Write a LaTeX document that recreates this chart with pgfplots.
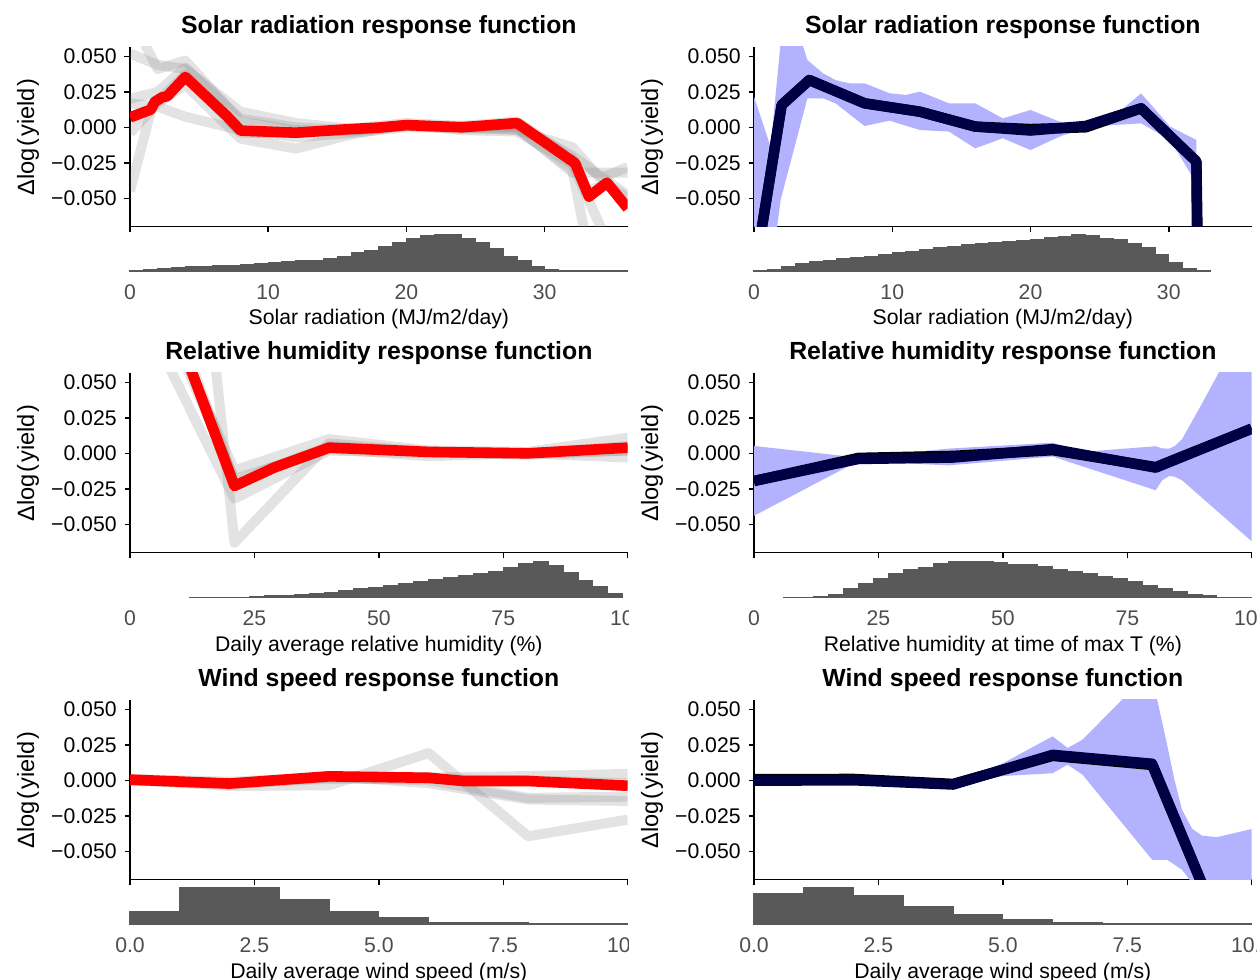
\documentclass[border=0pt]{standalone}
\usepackage{fontspec}
\setmainfont{Liberation Sans}
\usepackage{pgfplots}
\pgfplotsset{compat=1.18}
\definecolor{histgrey}{HTML}{595959}
\definecolor{tickgrey}{HTML}{4D4D4D}
\definecolor{bandblue}{HTML}{B2B2FF}
\definecolor{navyline}{HTML}{000044}
\newcommand\tfont{\fontsize{10.6}{12.7}\selectfont}
\pgfplotsset{
  mainbase/.style={
    scale only axis, width=248.85pt, height=90pt, anchor=south west,
    ymin=-0.0700, ymax=0.0568, no markers, scaled y ticks=false, scaled x ticks=false,
    axis x line*=bottom, axis y line*=left,
    axis line style={-, line width=0.75pt, black},
    tick style={line width=0.75pt, black},
    major tick length=2.75pt, tick align=outside,
    ytick={-0.05,-0.025,0,0.025,0.05},
    yticklabels={−0.050,−0.025,0.000,0.025,0.050},
    yticklabel style={font=\tfont, anchor=east, inner sep=0pt, xshift=-3.75pt},
    xticklabels={},
    title style={font=\bfseries\fontsize{12.4}{15}\selectfont, at={(axis description cs:0.5,1)}, anchor=base, yshift=0.5pt},
    ylabel={Δlog\hspace{0.08em}(\hspace{0.08em}yield\hspace{0.08em})},
    ylabel style={font=\fontsize{11.8}{14}\selectfont, at={(axis description cs:-0.205,0.5)}, anchor=center},
  },
  histbase/.style={
    scale only axis, width=248.85pt, height=18pt, anchor=south west,
    ymin=0, ymax=1, clip=false, no markers, scaled x ticks=false,
    axis line style={draw=none}, major tick length=0pt, tick style={draw=none},
    ytick=\empty,
    xticklabel style={font=\tfont, text=tickgrey, anchor=base, inner sep=0pt, yshift=-14.25pt},
    xlabel style={font=\tfont, at={(axis description cs:0.5,0)}, anchor=base, yshift=-27pt},
  },
  greyline/.style={draw=gray, opacity=0.22, line width=5pt, line join=round},
  redline/.style={draw=red, line width=5.3pt, line join=round},
  blackline/.style={draw=black, line width=5.2pt, line join=round},
  navline/.style={draw=navyline, line width=5.2pt, line join=round},
  band/.style={fill=bandblue, draw=none},
  hist/.style={const plot mark left, fill=histgrey, draw=histgrey, line width=0.6pt},
}
\begin{document}
\begin{tikzpicture}
\begin{scope}
\clip (0pt,0pt) rectangle (314.25pt,489.5pt);
% ---------------- Row 1 left
\begin{axis}[mainbase, at={(65pt,376.15pt)}, xmin=0, xmax=36, xtick={0,10,20,30},
  title={Solar radiation response function}]
\addplot[greyline] coordinates {(0,0.052)(2,0.044)(4,0.041)(8,0.011)(12,0.003)(16,-0.001)(20,0.003)(24,0.001)(28,0.001)(32,-0.020)(36,-0.048)};
\addplot[greyline] coordinates {(1,0.060)(2,0.041)(4,0.047)(8,0.004)(12,-0.002)(16,-0.003)(20,0.001)(24,-0.001)(28,-0.001)(32,-0.030)(33,-0.080)};
\addplot[greyline] coordinates {(0,0.017)(2,0.0146)(4,0.0075)(8,-0.002)(12,-0.007)(16,-0.004)(20,0.000)(24,0.000)(28,-0.002)(32,-0.014)(34,-0.036)(36,-0.028)};
\addplot[greyline] coordinates {(0,-0.004)(2,0.017)(4,0.030)(8,-0.008)(12,-0.015)(16,-0.005)(20,0.002)(24,-0.002)(28,-0.003)(32,-0.026)(34.5,-0.080)};
\addplot[greyline] coordinates {(0,-0.045)(1.6,0.015)(4,0.037)(8,-0.004)(12,-0.004)(16,-0.002)(20,0.001)(24,0.001)(28,0.004)(32,-0.022)(33,-0.045)(34.5,-0.040)(36,-0.050)};
\addplot[greyline] coordinates {(0,0.020)(2,0.025)(4,0.042)(8,0.006)(12,0.000)(16,-0.002)(20,0.001)(24,0.000)(28,0.000)(32,-0.032)(36,-0.032)};
\addplot[redline] coordinates {(0,0.0070)(1.5,0.0125)(1.8,0.0180)(2.3,0.0210)(2.7,0.0220)(4,0.0355)(7,0.0080)(8,-0.0023)(12,-0.0038)(16,-0.0012)(18,-0.0002)(20,0.0016)(24,0.0000)(28,0.0030)(32.2,-0.0253)(33.2,-0.0488)(34.5,-0.0390)(36,-0.0570)};
\end{axis}
\begin{axis}[histbase, at={(65pt,354pt)}, xmin=0, xmax=36, xtick={0,10,20,30}, xticklabels={0,10,20,30},
  xlabel={Solar radiation (MJ/m2/day)}]
\addplot[hist] coordinates {(0,0.008)(1,0.037)(2,0.056)(3,0.093)(4,0.112)(5,0.131)(6,0.150)(7,0.159)(8,0.187)(9,0.206)(10,0.234)(11,0.252)(12,0.280)(13,0.299)(14,0.346)(15,0.411)(16,0.505)(17,0.579)(18,0.673)(19,0.794)(20,0.888)(21,0.972)(22,1.0)(23,1.0)(24,0.907)(25,0.794)(26,0.626)(27,0.411)(28,0.280)(29,0.131)(30,0.037)(31,0.008)(36,0.008)} \closedcycle;
\end{axis}
% ---------------- Row 2 left
\begin{axis}[mainbase, at={(65pt,213.15pt)}, xmin=0, xmax=100, xtick={0,25,50,75,100},
  title={Relative humidity response function}]
\addplot[greyline] coordinates {(16,0.100)(21,-0.063)(40,0.007)(60,0.001)(80,0.000)(100,0.002)};
\addplot[greyline] coordinates {(5,0.081)(21,-0.032)(40,0.002)(60,0.000)(80,0.000)(100,-0.003)};
\addplot[greyline] coordinates {(10,0.075)(21,-0.012)(40,0.010)(60,0.002)(80,0.001)(100,0.011)};
\addplot[greyline] coordinates {(9,0.080)(21,-0.018)(40,0.003)(60,-0.002)(80,0.000)(100,0.005)};
\addplot[greyline] coordinates {(10,0.085)(21,-0.020)(40,0.005)(60,0.001)(80,-0.001)(100,0.002)};
\addplot[redline] coordinates {(10,0.080)(21,-0.023)(29,-0.010)(40,0.004)(60,0.001)(80,0.000)(100,0.004)};
\end{axis}
\begin{axis}[histbase, at={(65pt,190.75pt)}, xmin=0, xmax=100, xtick={0,25,50,75,100}, xticklabels={0,25,50,75,100},
  xlabel={Daily average relative humidity (\%)}]
\addplot[hist] coordinates {(12,0.01)(24,0.036)(27,0.045)(30,0.0625)(33,0.080)(36,0.107)(39,0.134)(42,0.1875)(45,0.241)(48,0.286)(51,0.330)(54,0.375)(57,0.4375)(60,0.491)(63,0.545)(66,0.598)(69,0.670)(72,0.732)(75,0.839)(78,0.9375)(81,1.0)(84,0.893)(87,0.705)(90,0.482)(93,0.304)(96,0.107)(99,0.107)} \closedcycle;
\end{axis}
% ---------------- Row 3 left
\begin{axis}[mainbase, at={(65pt,49.65pt)}, xmin=0, xmax=10, xtick={0,2.5,5,7.5,10},
  title={Wind speed response function}]
\addplot[greyline] coordinates {(0,0.0005)(2,-0.004)(4,-0.0035)(6,0.0192)(8,-0.0394)(10,-0.0277)};
\addplot[greyline] coordinates {(0,0.000)(2,-0.003)(4,0.002)(6,0.000)(8,-0.0124)(10,-0.0115)};
\addplot[greyline] coordinates {(0,0.000)(2,-0.002)(4,0.003)(6,-0.002)(8,-0.0135)(10,-0.0145)};
\addplot[greyline] coordinates {(0,0.001)(2,-0.001)(4,0.002)(6,0.002)(8,0.003)(10,0.0045)};
\addplot[greyline] coordinates {(0,0.000)(2,-0.002)(4,0.001)(6,0.001)(8,0.000)(10,-0.002)};
\addplot[redline] coordinates {(0,0.0005)(2,-0.0023)(4,0.0028)(6,0.0018)(6.7,-0.0005)(8,-0.0005)(10,-0.0038)};
\end{axis}
\begin{axis}[histbase, at={(65pt,27.5pt)}, xmin=0, xmax=10, xtick={0,2.5,5,7.5,10}, xticklabels={0.0,2.5,5.0,7.5,10.0},
  xlabel={Daily average wind speed (m/s)}]
\addplot[hist] coordinates {(0,0.352)(1,1.0)(2,1.0)(3,0.676)(4,0.352)(5,0.167)(6,0.046)(7,0.028)(8,0.012)(10,0.012)} \closedcycle;
\end{axis}
\end{scope}
% ---------------- Row 1 right
\begin{axis}[mainbase, at={(377pt,376.15pt)}, xmin=0, xmax=36, xtick={0,10,20,30},
  title={Solar radiation response function}]
\addplot[band] coordinates {(0,0.0216)(1.2,-0.0136)(1.93,0.060)(2.5,0.09)(3.3,0.065)(3.86,0.0474)(5,0.038)(5.9,0.0333)(6.9,0.031)(8,0.031)(9.8,0.024)(11,0.0228)(12,0.0251)(14.1,0.0169)(16,0.0169)(18,0.0063)(20,0.0122)(22.1,0.004)(24,0.0005)(26,0.0075)(28,0.0239)(30.1,0.0005)(32,-0.0089)
  (32,-0.0394)(30.1,-0.0089)(28,0.0028)(26,0.0016)(24,0.0)(22.1,-0.0066)(20,-0.016)(18,-0.0077)(16,-0.0148)(14.1,-0.003)(12,-0.0019)(9.8,0.0047)(8,0.0009)(5.9,0.0169)(5,0.0204)(3.86,0.0204)(1.93,-0.051)(1.0,-0.12)(0,-0.25)};
\addplot[blackline] coordinates {(0,-0.105)(2,0.0157)(4,0.0333)(8,0.0169)(12,0.011)(16,0.0005)(20,-0.0012)(24,0.0000)(28,0.0134)(32,-0.0240)(32.45,-0.30)};
\addplot[navline] coordinates {(0,-0.105)(2,0.0157)(4,0.0333)(8,0.0169)(12,0.011)(16,0.0005)(20,-0.0023)(24,0.0010)(28,0.0134)(32,-0.0242)(32.2,-0.30)};
\end{axis}
\begin{axis}[histbase, at={(377pt,354pt)}, xmin=0, xmax=36, xtick={0,10,20,30}, xticklabels={0,10,20,30},
  xlabel={Solar radiation (MJ/m2/day)}]
\addplot[hist] coordinates {(0,0.008)(1,0.037)(2,0.112)(3,0.206)(4,0.252)(5,0.299)(6,0.336)(7,0.374)(8,0.411)(9,0.458)(10,0.505)(11,0.551)(12,0.598)(13,0.636)(14,0.673)(15,0.720)(16,0.748)(17,0.776)(18,0.804)(19,0.832)(20,0.860)(21,0.935)(22,0.953)(23,1.0)(24,0.981)(25,0.907)(26,0.879)(27,0.766)(28,0.654)(29,0.467)(30,0.243)(31,0.056)(32,0.019)(33,0.019)} \closedcycle;
\end{axis}
% ---------------- Row 2 right
\begin{axis}[mainbase, at={(377pt,213.15pt)}, xmin=0, xmax=100, xtick={0,25,50,75,100},
  title={Relative humidity response function}]
\addplot[band] coordinates {(0,0.0052)(21,-0.003)(39,0.0033)(60,0.0075)(66,0.001)(80.7,0.005)(82,0.0035)(83.4,0.0033)(84.5,0.005)(86,0.0099)(90,0.035)(93.4,0.057)(100,0.10)
  (100,-0.062)(86,-0.019)(84.5,-0.0165)(83.4,-0.016)(82,-0.019)(80.7,-0.026)(60,-0.0023)(39,-0.0085)(21,-0.0054)(0,-0.044)};
\addplot[blackline] coordinates {(0,-0.0195)(21,-0.0032)(40,-0.0018)(60,0.0022)(80.7,-0.0097)(100,0.0174)};
\addplot[navline] coordinates {(0,-0.0195)(21,-0.0040)(40,-0.0030)(60,0.0030)(80.7,-0.0101)(100,0.0174)};
\end{axis}
\begin{axis}[histbase, at={(377pt,190.75pt)}, xmin=0, xmax=100, xtick={0,25,50,75,100}, xticklabels={0,25,50,75,100},
  xlabel={Relative humidity at time of max T (\%)}]
\addplot[hist] coordinates {(6,0.01)(12,0.027)(15,0.082)(18,0.245)(21,0.382)(24,0.518)(27,0.655)(30,0.773)(33,0.836)(36,0.945)(39,0.991)(42,1.0)(45,1.0)(48,0.973)(51,0.927)(54,0.909)(57,0.845)(60,0.773)(63,0.718)(66,0.655)(69,0.591)(72,0.536)(75,0.445)(78,0.336)(81,0.245)(84,0.155)(87,0.091)(90,0.045)(93,0.01)(100,0.01)} \closedcycle;
\end{axis}
% ---------------- Row 3 right
\begin{axis}[mainbase, at={(377pt,49.65pt)}, xmin=0, xmax=10, xtick={0,2.5,5,7.5,10},
  title={Wind speed response function}]
\addplot[band] coordinates {(0,0.0010)(2,0.0010)(4,-0.0020)(5,0.012)(6,0.031)(6.3,0.0228)(6.6,0.0286)(7.4,0.057)(8.0,0.090)(8.1,0.057)(8.3,0.025)(8.45,0.0)(8.6,-0.0207)(8.8,-0.034)(9.0,-0.039)(9.3,-0.040)(10,-0.0343)
  (10,-0.20)(9,-0.090)(8.75,-0.070)(8.6,-0.063)(8.3,-0.056)(8.0,-0.056)(6.6,0.004)(6.3,0.011)(6.0,0.005)(5,0.003)(4,-0.0045)(2,-0.0010)(0,-0.0010)};
\addplot[blackline] coordinates {(0,0.0008)(2,0.0010)(4,-0.0025)(6,0.0172)(8,0.0108)(10,-0.157)};
\addplot[navline] coordinates {(0,-0.0003)(2,0.0000)(4,-0.0030)(6,0.0180)(8,0.0117)(10,-0.157)};
\end{axis}
\begin{axis}[histbase, at={(377pt,27.5pt)}, xmin=0, xmax=10, xtick={0,2.5,5,7.5,10}, xticklabels={0.0,2.5,5.0,7.5,10.0},
  xlabel={Daily average wind speed (m/s)}]
\addplot[hist] coordinates {(0,0.833)(1,1.0)(2,0.787)(3,0.472)(4,0.259)(5,0.111)(6,0.028)(7,0.012)(10,0.012)} \closedcycle;
\end{axis}
\pgfresetboundingbox
\path[use as bounding box] (0pt,0pt) rectangle (628.5pt,489.5pt);
\end{tikzpicture}
\end{document}
